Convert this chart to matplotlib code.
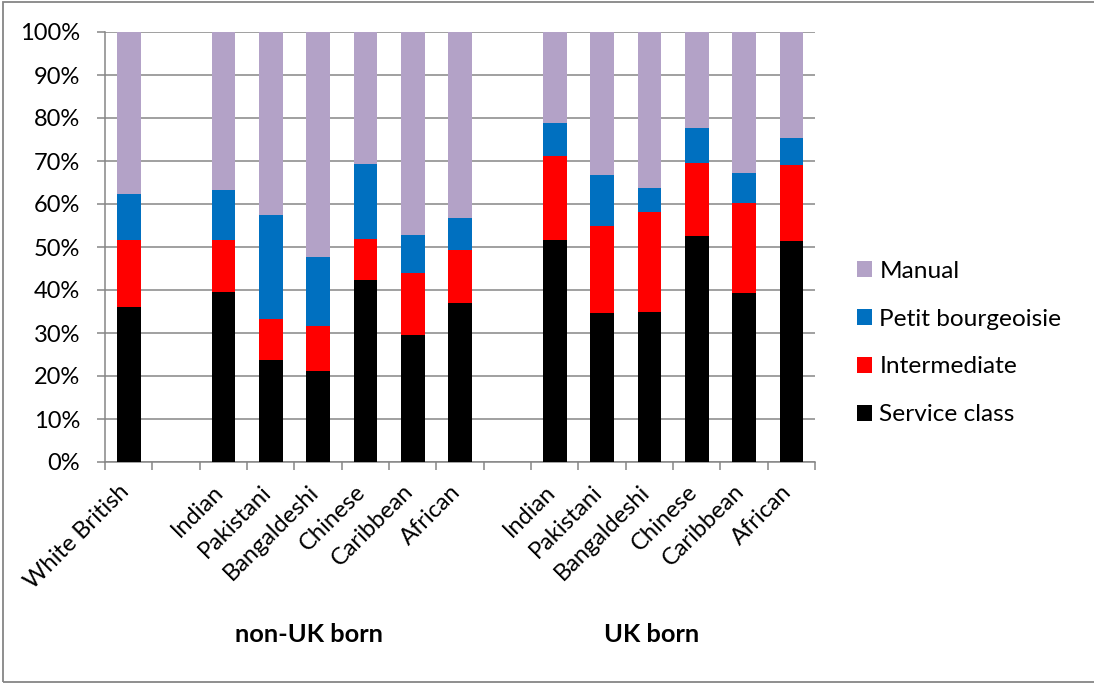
import matplotlib
matplotlib.use("Agg")
import matplotlib.pyplot as plt
from matplotlib.patches import Rectangle, Patch
from matplotlib.transforms import blended_transform_factory
from matplotlib.ticker import FuncFormatter

plt.rcParams['font.family'] = ['Lato', 'DejaVu Sans']

# Ethnic groups; White British, then non-UK born, then UK born
categories = ["White British",
              "Indian", "Pakistani", "Bangaldeshi", "Chinese", "Caribbean", "African",
              "Indian", "Pakistani", "Bangaldeshi", "Chinese", "Caribbean", "African"]
group_names = ["non-UK born", "UK born"]

# Class shares (%) per group
service_class = [36.1, 39.5, 23.8, 21.2, 42.4, 29.5, 37.0, 51.7, 34.6, 34.8, 52.6, 39.2, 51.5]
intermediate = [15.5, 12.2, 9.4, 10.5, 9.4, 14.5, 12.3, 19.5, 20.3, 23.4, 16.9, 21.1, 17.5]
petit_bourgeoisie = [10.8, 11.6, 24.3, 15.9, 17.6, 8.8, 7.4, 7.6, 11.8, 5.5, 8.2, 6.8, 6.4]
manual = [37.6, 36.7, 42.5, 52.4, 30.6, 47.2, 43.3, 21.2, 33.3, 36.3, 22.3, 32.9, 24.6]

series = [("Service class", service_class, "#000000"),
          ("Intermediate", intermediate, "#FF0000"),
          ("Petit bourgeoisie", petit_bourgeoisie, "#0070C0"),
          ("Manual", manual, "#B3A2C7")]

# slot positions with an empty slot between the three blocks
positions = [0] + list(range(2, 8)) + list(range(9, 15))
n_slots = 15

W, H = 1094, 684
fig = plt.figure(figsize=(W / 100, H / 100), dpi=100)
ax = fig.add_axes([105 / W, 1 - 462 / H, (815 - 105) / W, (462 - 32) / H])

grey = "#868686"
fs = 17

bottom = [0.0] * len(categories)
for name, vals, col in series:
    ax.bar(positions, vals, width=0.5, bottom=bottom, color=col, label=name,
           zorder=3, linewidth=0)
    bottom = [b + v for b, v in zip(bottom, vals)]

ax.set_xlim(-0.5, n_slots - 0.5)
ax.set_ylim(0, 100)
ax.set_yticks(range(0, 101, 10))
ax.yaxis.set_major_formatter(FuncFormatter(lambda v, p: f"{int(v)}%"))
ax.yaxis.grid(True, color=grey, linewidth=1.1, zorder=0)
ax.tick_params(axis='y', length=6, width=1.1, color=grey, labelsize=fs, pad=12)

# boundary ticks between slots, labels at slot centres
ax.set_xticks([i - 0.5 for i in range(n_slots + 1)])
ax.set_xticklabels([])
ax.tick_params(axis='x', which='major', length=6, width=1.1, color=grey)
ax.set_xticks([p - 0.06 for p in positions], minor=True)
ax.set_xticklabels(categories, minor=True, rotation=45, ha='right',
                   va='center', rotation_mode='anchor', fontsize=fs)
ax.tick_params(axis='x', which='minor', length=0, pad=19)

for side in ("top", "right"):
    ax.spines[side].set_visible(False)
for side in ("left", "bottom"):
    ax.spines[side].set_color(grey)
    ax.spines[side].set_linewidth(1.1)

trans = blended_transform_factory(ax.transData, ax.transAxes)
ax.text(3.8, -0.402, group_names[0], transform=trans, ha='center', va='center',
        fontsize=18.3, fontweight='bold')
ax.text(11.04, -0.402, group_names[1], transform=trans, ha='center', va='center',
        fontsize=18.3, fontweight='bold')

handles = [Patch(facecolor=c, label=n) for n, _, c in series][::-1]
fig.legend(handles=handles, loc='center left',
           bbox_to_anchor=(835 / W, 1 - 343 / H), frameon=False,
           fontsize=17.6, handlelength=0.62, handleheight=0.62,
           handletextpad=0.3, labelspacing=1.1)

# outer chart frame
fig.patches.append(Rectangle((3 / W, 2 / H), (W + 5) / W, (H - 4) / H,
                             transform=fig.transFigure, fill=False,
                             edgecolor=grey, linewidth=1.3))

fig.savefig("out.png", dpi=100)
